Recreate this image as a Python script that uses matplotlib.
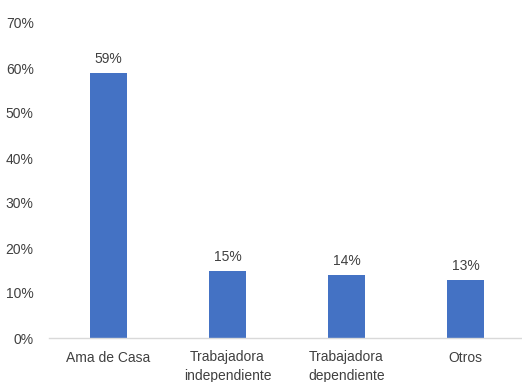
import matplotlib
matplotlib.use("Agg")
import matplotlib.pyplot as plt
from matplotlib.ticker import PercentFormatter

categories = ["Ama de Casa", "Trabajadora\nindependiente", "Trabajadora\ndependiente", "Otros"]
values = [0.59, 0.15, 0.14, 0.13]
yticks = [0, 0.1, 0.2, 0.3, 0.4, 0.5, 0.6, 0.7]

plt.rcParams["font.family"] = ["Liberation Sans", "DejaVu Sans"]
text_color = "#404040"
bar_color = "#4472C4"

fig = plt.figure(figsize=(5.22, 3.82), dpi=100)
ax = fig.add_axes([49 / 522, 1 - 338 / 382, 476 / 522, 315 / 382])

x = range(len(categories))
bars = ax.bar(x, values, width=0.31, color=bar_color)

for xi, v in zip(x, values):
    ax.annotate(f"{v:.0%}", (xi, v), xytext=(0, 5), textcoords="offset points",
                ha="center", va="bottom", fontsize=10, color=text_color)

ax.set_xlim(-0.5, len(categories) - 0.5)
ax.set_ylim(0, 0.7)
ax.set_yticks(yticks)
ax.yaxis.set_major_formatter(PercentFormatter(1.0, decimals=0))
ax.set_xticks(list(x))
ax.set_xticklabels(categories, linespacing=1.45)

ax.tick_params(axis="both", length=0, labelsize=10, colors=text_color)
ax.tick_params(axis="y", pad=11)
ax.tick_params(axis="x", pad=9)

for side in ["top", "right", "left"]:
    ax.spines[side].set_visible(False)
ax.spines["bottom"].set_color("#D9D9D9")
ax.spines["bottom"].set_linewidth(1.0)

fig.savefig("out.png", dpi=100)
